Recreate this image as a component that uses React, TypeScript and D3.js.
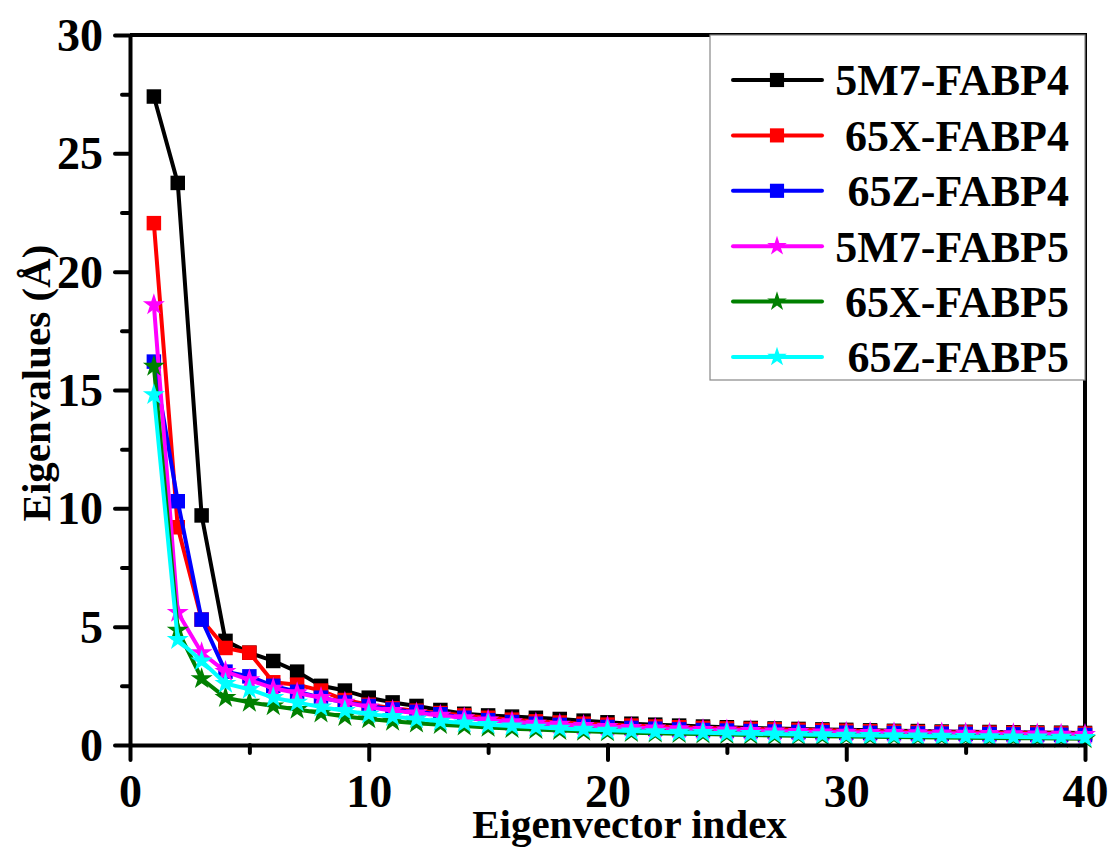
import React, { useRef, useEffect } from 'react';
import * as d3 from 'd3';

const seriesNames = ['5M7-FABP4', '65X-FABP4', '65Z-FABP4', '5M7-FABP5', '65X-FABP5', '65Z-FABP5'];
const seriesColors = ['#000000', '#ff0000', '#0000ff', '#ff00ff', '#008000', '#00ffff'];
const seriesShapes = ['square', 'square', 'square', 'star', 'star', 'star'];

const eigenIndex = d3.range(1, 41);

const v5M7F4 = [27.4, 23.75, 9.7, 4.4, 3.9, 3.55, 3.1, 2.5, 2.3, 2.0, 1.8, 1.65, 1.48, 1.32, 1.25, 1.2, 1.15, 1.1, 1.03, 0.96,
  0.9, 0.86, 0.82, 0.78, 0.75, 0.72, 0.7, 0.68, 0.66, 0.64, 0.62, 0.6, 0.59, 0.57, 0.56, 0.55, 0.54, 0.53, 0.52, 0.51];
const v65XF4 = [22.05, 9.2, 5.3, 4.1, 3.9, 2.65, 2.55, 2.3, 1.9, 1.7, 1.55, 1.45, 1.35, 1.25, 1.15, 1.07, 1.0, 0.95, 0.9, 0.86,
  0.82, 0.78, 0.75, 0.72, 0.7, 0.68, 0.66, 0.64, 0.62, 0.6, 0.58, 0.57, 0.55, 0.54, 0.53, 0.52, 0.51, 0.5, 0.49, 0.48];
const v65ZF4 = [16.2, 10.3, 5.3, 3.1, 2.9, 2.5, 2.25, 2.0, 1.8, 1.65, 1.5, 1.4, 1.3, 1.15, 1.05, 0.97, 0.9, 0.85, 0.8, 0.76,
  0.72, 0.69, 0.66, 0.63, 0.61, 0.59, 0.57, 0.55, 0.54, 0.52, 0.51, 0.5, 0.49, 0.48, 0.47, 0.46, 0.45, 0.44, 0.43, 0.42];
const v5M7F5 = [18.6, 5.6, 3.9, 3.1, 2.75, 2.4, 2.2, 2.0, 1.8, 1.6, 1.45, 1.35, 1.25, 1.15, 1.05, 0.98, 0.92, 0.87, 0.82, 0.78,
  0.74, 0.71, 0.68, 0.65, 0.63, 0.61, 0.59, 0.57, 0.55, 0.54, 0.53, 0.52, 0.51, 0.5, 0.49, 0.48, 0.47, 0.46, 0.45, 0.44];
const v65XF5 = [16.0, 4.85, 2.8, 2.0, 1.8, 1.65, 1.5, 1.35, 1.2, 1.1, 1.0, 0.92, 0.86, 0.8, 0.74, 0.69, 0.65, 0.61, 0.58, 0.55,
  0.52, 0.5, 0.48, 0.46, 0.44, 0.42, 0.4, 0.39, 0.37, 0.36, 0.35, 0.34, 0.33, 0.32, 0.31, 0.3, 0.29, 0.28, 0.27, 0.26];
const v65ZF5 = [14.8, 4.45, 3.55, 2.6, 2.35, 2.0, 1.8, 1.6, 1.45, 1.3, 1.2, 1.1, 1.0, 0.93, 0.86, 0.8, 0.75, 0.7, 0.66, 0.62,
  0.59, 0.56, 0.54, 0.52, 0.5, 0.48, 0.46, 0.44, 0.43, 0.41, 0.4, 0.39, 0.38, 0.37, 0.36, 0.35, 0.34, 0.33, 0.32, 0.31];

const seriesValues = [v5M7F4, v65XF4, v65ZF4, v5M7F5, v65XF5, v65ZF5];

const xMajor = [0, 10, 20, 30, 40];
const xMinor = [5, 15, 25, 35];
const yMajor = [0, 5, 10, 15, 20, 25, 30];
const yMinor = [2.5, 7.5, 12.5, 17.5, 22.5, 27.5];

const FONT = '"Liberation Serif", "Times New Roman", serif';

const App = () => {
  const svgRef = useRef(null);
  const W = 1115, H = 850;
  const left = 130, right = 1085, top = 35, bottom = 745;

  useEffect(() => {
    const svg = d3.select(svgRef.current);
    svg.selectAll('*').remove();

    const x = d3.scaleLinear().domain([0, 40]).range([left, right]);
    const y = d3.scaleLinear().domain([0, 30]).range([bottom, top]);

    // frame top/right
    svg.append('path')
      .attr('d', `M${left},${top}H${right}V${bottom}`)
      .attr('fill', 'none').attr('stroke', '#000').attr('stroke-width', 4);

    // legend box (drawn under data, like origin)
    svg.append('rect')
      .attr('x', 710).attr('y', top).attr('width', right - 710).attr('height', 345)
      .attr('fill', '#fff').attr('stroke', '#888').attr('stroke-width', 1.2);

    const line = d3.line<number>()
      .x((d, i) => x(eigenIndex[i]))
      .y((d) => y(d));

    const symFor = (shape: string, big: boolean) =>
      d3.symbol()
        .type(shape === 'square' ? d3.symbolSquare : d3.symbolStar)
        .size(shape === 'square' ? (big ? 210 : 200) : (big ? 150 : 120))();

    seriesValues.forEach((vals, si) => {
      const g = svg.append('g');
      g.append('path')
        .attr('d', line(vals))
        .attr('fill', 'none')
        .attr('stroke', seriesColors[si])
        .attr('stroke-width', 4)
        .attr('stroke-linejoin', 'round');
      g.selectAll('path.m')
        .data(vals)
        .enter()
        .append('path')
        .attr('class', 'm')
        .attr('d', symFor(seriesShapes[si], true))
        .attr('transform', (d, i) => `translate(${x(eigenIndex[i])},${y(d)})`)
        .attr('fill', seriesColors[si]);
    });

    // axes
    const xAxis = d3.axisBottom(x).tickValues(xMajor).tickSize(15).tickSizeOuter(0).tickPadding(14);
    const xg = svg.append('g').attr('transform', `translate(0,${bottom})`).call(xAxis);
    const xMin = d3.axisBottom(x).tickValues(xMinor).tickSize(8).tickSizeOuter(0).tickFormat(() => '');
    const xmg = svg.append('g').attr('transform', `translate(0,${bottom})`).call(xMin);

    const yAxis = d3.axisLeft(y).tickValues(yMajor).tickSize(15).tickSizeOuter(0).tickPadding(12);
    const yg = svg.append('g').attr('transform', `translate(${left},0)`).call(yAxis);
    const yMin = d3.axisLeft(y).tickValues(yMinor).tickSize(8).tickSizeOuter(0).tickFormat(() => '');
    const ymg = svg.append('g').attr('transform', `translate(${left},0)`).call(yMin);

    [xg, yg, xmg, ymg].forEach((g) => {
      g.select('.domain').attr('stroke', '#000').attr('stroke-width', 4);
      g.selectAll('line').attr('stroke', '#000').attr('stroke-width', 4).attr('stroke-linecap', 'round');
      g.selectAll('text')
        .attr('fill', '#000')
        .attr('font-family', FONT)
        .attr('font-weight', 'bold')
        .attr('font-size', 46);
    });
    xmg.select('.domain').remove();
    ymg.select('.domain').remove();
    yg.selectAll('text').attr('dy', '0.34em');

    // axis titles
    svg.append('text')
      .attr('x', (left + right) / 2 + 22).attr('y', 838)
      .attr('text-anchor', 'middle')
      .attr('font-family', FONT).attr('font-weight', 'bold').attr('font-size', 41)
      .text('Eigenvector index');
    svg.append('text')
      .attr('transform', `translate(50,383) rotate(-90)`)
      .attr('text-anchor', 'middle')
      .attr('font-family', FONT).attr('font-weight', 'bold').attr('font-size', 41)
      .text('Eigenvalues (Å)');

    // legend
    const legY = d3.scalePoint<number>().domain(d3.range(6)).range([80, 357]);
    const leg = svg.append('g');
    seriesNames.forEach((name, si) => {
      const ly = legY(si) as number;
      leg.append('line')
        .attr('x1', 733).attr('x2', 822).attr('y1', ly).attr('y2', ly)
        .attr('stroke', seriesColors[si]).attr('stroke-width', 4).attr('stroke-linecap', 'round');
      leg.append('path')
        .attr('d', symFor(seriesShapes[si], false))
        .attr('transform', `translate(777,${ly})`)
        .attr('fill', seriesColors[si]);
      leg.append('text')
        .attr('x', 1069).attr('y', ly).attr('dy', '0.35em')
        .attr('text-anchor', 'end')
        .attr('font-family', FONT).attr('font-weight', 'bold').attr('font-size', 44)
        .text(name);
    });
  }, []);

  return (
    <svg ref={svgRef} width={W} height={H}
      style={{ position: 'absolute', left: 0, top: 0, background: '#fff' }} />
  );
};

export default App;
